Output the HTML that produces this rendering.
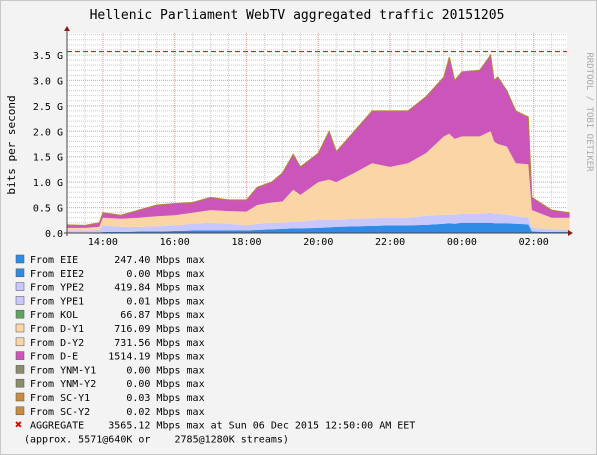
<!DOCTYPE html>
<html><head><meta charset="utf-8">
<style>
body{margin:0;background:#f3f3f3;}
svg{display:block;font-family:"DejaVu Sans Mono","Liberation Mono",monospace;}
</style></head>
<body>
<svg id="chart" width="597" height="455" viewBox="0 0 597 455" xmlns="http://www.w3.org/2000/svg">
<rect x="0.5" y="0.5" width="596" height="454" fill="#f3f3f3" stroke="#c8c8c8"/>
<text x="297" y="19" font-size="13" text-anchor="middle" fill="#000">Hellenic Parliament WebTV aggregated traffic 20151205</text>
<text transform="translate(15,145) rotate(-90)" font-size="11" text-anchor="middle" fill="#000">bits per second</text>
<text transform="translate(587,112) rotate(90)" font-size="9" text-anchor="middle" fill="#aaa">RRDTOOL / TOBI OETIKER</text>
<rect x="67" y="33" width="500" height="200" fill="#fff"/>
<g id="grid"></g>
<g id="areas"></g>
<g id="axes"></g>
<g id="legend"></g>
</svg>
<script>
// hours since 13:00
const times = [0,0.5,0.9,1.0,1.5,2,2.5,3,3.5,4,4.5,5,5.3,5.7,6,6.3,6.5,7,7.3,7.5,8,8.5,9,9.5,10,10.5,10.65,10.8,11,11.5,11.8,11.9,12,12.25,12.5,12.85,12.95,13.5,14];
// values in Gbit/s
const eie  = [.01,.01,.01,.02,.02,.03,.03,.04,.05,.05,.05,.05,.06,.07,.08,.09,.09,.1,.11,.12,.13,.14,.15,.15,.16,.18,.19,.18,.2,.2,.2,.19,.19,.19,.18,.17,.03,.02,.02];
const ype2 = [.04,.04,.05,.13,.10,.09,.10,.11,.13,.15,.13,.10,.12,.13,.12,.13,.13,.16,.15,.14,.15,.15,.15,.15,.18,.18,.17,.18,.18,.18,.20,.19,.19,.17,.15,.13,.07,.05,.04];
const dy   = [.05,.05,.06,.15,.16,.18,.20,.20,.22,.25,.25,.27,.37,.40,.42,.63,.53,.74,.79,.74,.90,1.08,1.00,1.07,1.23,1.54,1.59,1.49,1.52,1.52,1.60,1.42,1.37,1.34,1.04,1.05,.35,.23,.24];
const de   = [.06,.05,.08,.10,.07,.15,.22,.23,.20,.25,.22,.23,.35,.40,.56,.70,.55,.57,.95,.60,.82,1.03,1.10,1.03,1.11,1.17,1.51,1.15,1.27,1.30,1.50,1.20,1.32,1.10,1.03,.93,.25,.15,.10];
const maxLine = 3.565;
const yTicks = [0,0.5,1,1.5,2,2.5,3,3.5];
const yTickLabels = ["0.0","0.5 G","1.0 G","1.5 G","2.0 G","2.5 G","3.0 G","3.5 G"];
const xTicks = [1,3,5,7,9,11,13];
const xTickLabels = ["14:00","16:00","18:00","20:00","22:00","00:00","02:00"];
const legendNames = ["From EIE","From EIE2","From YPE2","From YPE1","From KOL","From D-Y1","From D-Y2","From D-E","From YNM-Y1","From YNM-Y2","From SC-Y1","From SC-Y2"];
const legendValues = ["247.40","0.00","419.84","0.01","66.87","716.09","731.56","1514.19","0.00","0.00","0.03","0.02"];
const legendColors = ["#2f8ce6","#2f8ce6","#c8c8ff","#c8c8ff","#5fa55f","#fad6a6","#fad6a6","#cc55bb","#8c8c6c","#8c8c6c","#c88c3c","#c88c3c"];

const NS="http://www.w3.org/2000/svg";
const X0=67, X1=567, Y0=233, PXG=50.86, PXH=35.9;
const xs = t => X0 + t*PXH;
const ys = v => Y0 - v*PXG;
function mk(tag, attrs, parent){const e=document.createElementNS(NS,tag);for(const k in attrs)e.setAttribute(k,attrs[k]);parent.appendChild(e);return e;}
const grid=document.getElementById('grid'), areas=document.getElementById('areas'), axes=document.getElementById('axes'), legend=document.getElementById('legend');

for(let v=0.1; v<3.95; v+=0.1){
  const g=mk('line',{x1:X0,x2:X1,y1:ys(v),y2:ys(v),stroke:'#ccc','stroke-dasharray':'1,1','stroke-width':1},grid);
  
  
}
for(let t=0.5; t<14; t+=0.5){
  const g=mk('line',{x1:xs(t),x2:xs(t),y1:33,y2:Y0,stroke:'#ccc','stroke-dasharray':'1,1'},grid);
  
  
}
yTicks.forEach((v,i)=>{
  if(v>0){const g=mk('line',{x1:X0,x2:X1,y1:ys(v),y2:ys(v),stroke:'#f0a0a0','stroke-dasharray':'1,1'},grid);
  
  }
  const t=mk('text',{x:X0-4,y:ys(v)+4,'font-size':10,'text-anchor':'end',fill:'#000'},axes);
  t.textContent=yTickLabels[i];
  
  
});
xTicks.forEach((h,i)=>{
  const g=mk('line',{x1:xs(h),x2:xs(h),y1:33,y2:Y0,stroke:'#f0a0a0','stroke-dasharray':'1,1'},grid);
  
  
  const t=mk('text',{x:xs(h),y:Y0+12,'font-size':10,'text-anchor':'middle',fill:'#000'},axes);
  t.textContent=xTickLabels[i];
  
  
});

const series=[eie,ype2,dy,de];
const colors=["#2f8ce6","#c8c8ff","#fad6a6","#cc55bb"];
const snames=["area-eie","area-ype2","area-d-y","area-d-e"];
let base=times.map(()=>0);
series.forEach((s,si)=>{
  const top=base.map((b,i)=>b+s[i]);
  let d='';
  times.forEach((t,i)=>{d+=(i?'L':'M')+xs(t).toFixed(1)+','+ys(top[i]).toFixed(1);});
  for(let i=times.length-1;i>=0;i--) d+='L'+xs(times[i]).toFixed(1)+','+ys(base[i]).toFixed(1);
  const p=mk('path',{d:d+'Z',fill:colors[si]},areas);
  
  
  if(si===3){
    let l='';times.forEach((t,i)=>{l+=(i?'L':'M')+xs(t).toFixed(1)+','+ys(top[i]).toFixed(1);});
    const ln=mk('path',{d:l,fill:'none',stroke:'#b08a30','stroke-width':1},areas);
    
    
  }
  base=top;
});
const ml=mk('line',{x1:X0,x2:X1,y1:ys(maxLine),y2:ys(maxLine),stroke:'#cc0000','stroke-dasharray':'5,3'},areas);



const ya=mk('line',{x1:X0,x2:X0,y1:Y0+3,y2:30,stroke:'#444'},axes);


const xa=mk('line',{x1:X0-3,x2:X1+2,y1:Y0,y2:Y0,stroke:'#444'},axes);


const ar1=mk('path',{d:`M${X0-3},31 L${X0+3},31 L${X0},26 Z`,fill:'#8b1a1a'},axes);


const ar2=mk('path',{d:`M${X1+1},${Y0-3} L${X1+1},${Y0+3} L${X1+6},${Y0} Z`,fill:'#8b1a1a'},axes);



legendNames.forEach((n,i)=>{
  const y=259+i*13.8;
  const r=mk('rect',{x:16,y:y-4,width:8,height:8,fill:legendColors[i],stroke:'#555','stroke-width':0.5},legend);
  
  
  const txt=(n.padEnd(12,' ')+legendValues[i].padStart(8,' ')+' Mbps max');
  const t=mk('text',{x:30,y:y+4,'font-size':10,fill:'#000'},legend);
  t.setAttribute('style','white-space:pre');
  t.textContent=txt;
  
  
});
const ay=259+12*13.8;
const xm=mk('text',{x:15,y:ay+4,'font-size':12,fill:'#e00','font-weight':'bold'},legend);
xm.textContent='✖';


const at=mk('text',{x:30,y:ay+4,'font-size':10,fill:'#000'},legend);
at.setAttribute('style','white-space:pre');
at.textContent='AGGREGATE    3565.12 Mbps max at Sun 06 Dec 2015 12:50:00 AM EET';


const ap=mk('text',{x:24,y:ay+18,'font-size':10,fill:'#000'},legend);
ap.setAttribute('style','white-space:pre');
ap.textContent='(approx. 5571@640K or    2785@1280K streams)';


</script>
</body></html>
